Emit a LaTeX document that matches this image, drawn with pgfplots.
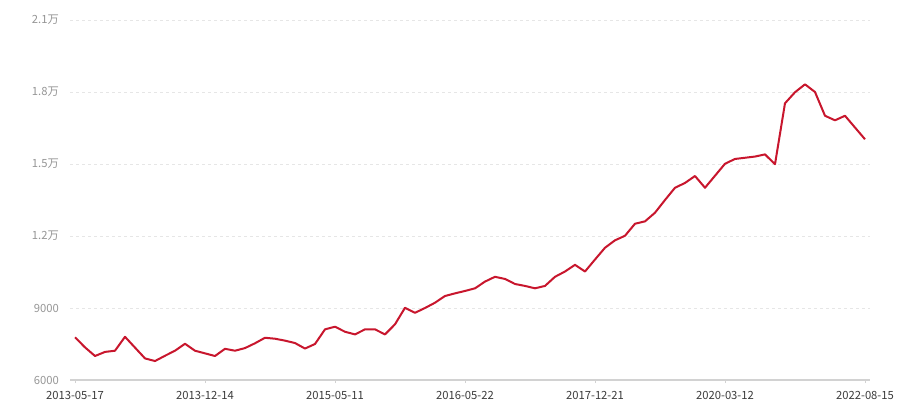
\documentclass[border=0pt]{standalone}
\usepackage{pgfplots}
\pgfplotsset{compat=1.18}
\usepackage{fontspec}
\setmainfont{Noto Sans CJK SC}
\definecolor{linered}{RGB}{200,22,45}
\definecolor{gridc}{RGB}{230,230,230}
\definecolor{axisc}{RGB}{210,210,210}
\definecolor{ylab}{RGB}{150,150,150}
\definecolor{xlab}{RGB}{60,60,60}
\begin{document}
\begin{tikzpicture}
\path[use as bounding box, fill=white] (0,0) rectangle (900bp,400bp);
\begin{axis}[
  at={(70bp,20bp)}, anchor=south west,
  scale only axis, width=800bp, height=360bp,
  xmin=-0.5, xmax=79.5, ymin=6000, ymax=21000,
  scaled y ticks=false,
  axis line style={draw=none},
  axis x line*=bottom, axis y line*=left,
  xtick={0,13,26,39,52,65,79},
  xticklabels={2013-05-17,2013-12-14,2015-05-11,2016-05-22,2017-12-21,2020-03-12,2022-08-15},
  ytick={6000,9000,12000,15000,18000,21000},
  yticklabels={6000,9000,1.2万,1.5万,1.8万,2.1万},
  ymajorgrids, grid style={gridc, line width=0.8bp, dash pattern=on 3bp off 3bp},
  major tick length=3bp,
  xtick style={axisc, line width=1bp},
  tick align=outside,
  ytick style={draw=none},
  xticklabel style={font=\fontsize{11.3}{13}\selectfont, text=xlab, anchor=base, inner sep=0pt, yshift=-16.5bp},
  yticklabel style={font=\fontsize{11.3}{13}\selectfont, text=ylab, anchor=east, inner sep=0pt, xshift=-8bp},
  /pgf/number format/assume math mode=true,
  clip=false,
]
\draw[axisc, line width=1.2bp] (axis cs:-0.5,6000) -- (axis cs:79.5,6000);
\addplot[linered, line width=2bp, line join=round, mark=none] coordinates {
(0,7780)(1,7360)(2,7000)(3,7170)(4,7220)(5,7800)(6,7350)(7,6900)(8,6790)(9,7010)
(10,7220)(11,7510)(12,7220)(13,7110)(14,7000)(15,7300)(16,7220)(17,7330)(18,7530)(19,7760)
(20,7720)(21,7640)(22,7540)(23,7310)(24,7500)(25,8110)(26,8220)(27,8010)(28,7900)(29,8110)
(30,8110)(31,7900)(32,8320)(33,9010)(34,8800)(35,9000)(36,9220)(37,9500)(38,9610)(39,9710)
(40,9820)(41,10100)(42,10300)(43,10210)(44,10000)(45,9920)(46,9820)(47,9920)(48,10300)(49,10520)
(50,10800)(51,10520)(52,11020)(53,11510)(54,11820)(55,12010)(56,12510)(57,12610)(58,12970)(59,13500)
(60,14010)(61,14210)(62,14500)(63,14010)(64,14510)(65,15010)(66,15210)(67,15260)(68,15310)(69,15400)
(70,14990)(71,17530)(72,17990)(73,18320)(74,18000)(75,17010)(76,16820)(77,17010)(78,16520)(79,16030)
};
\end{axis}
\end{tikzpicture}
\end{document}
